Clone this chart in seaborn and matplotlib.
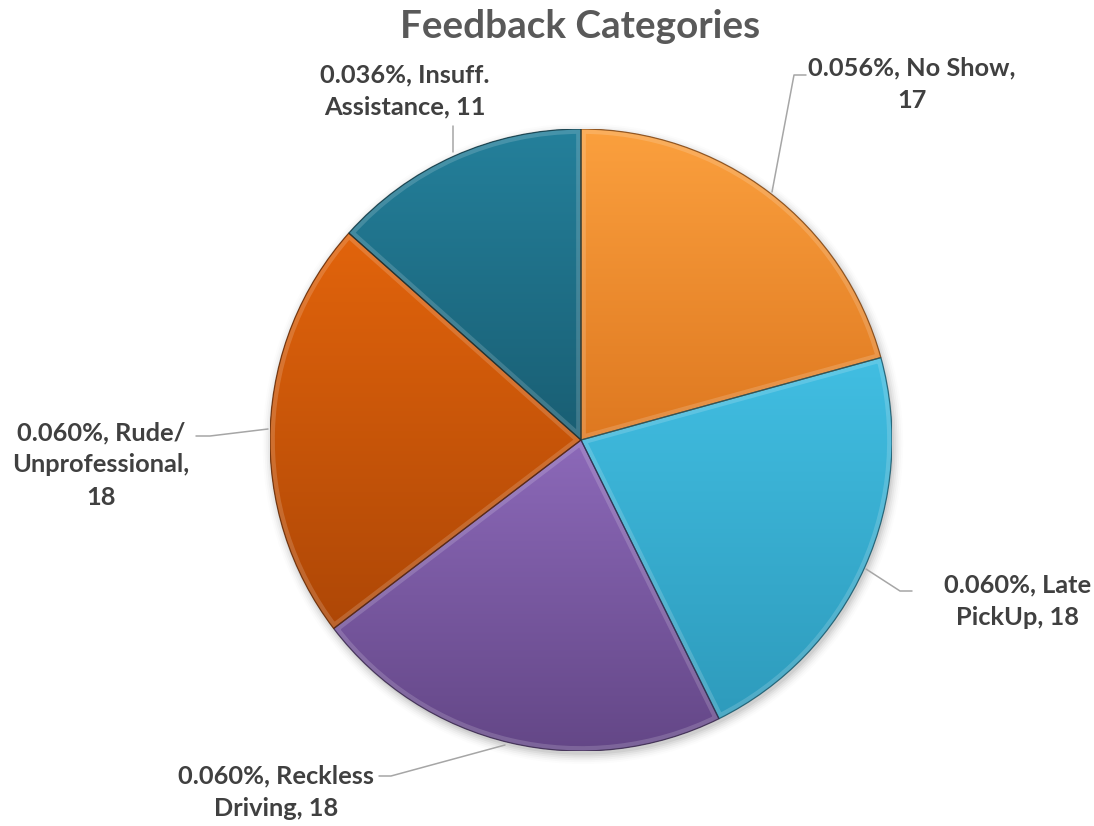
import numpy as np
import matplotlib
matplotlib.use("Agg")
import matplotlib.pyplot as plt
import matplotlib.colors as mcolors
from matplotlib.patches import Circle, PathPatch
import seaborn as sns

# Feedback data
categories = ["No Show", "Late\nPickUp", "Reckless\nDriving", "Rude/\nUnprofessional", "Insuff.\nAssistance"]
counts = [17, 18, 18, 18, 11]
pct_labels = ["0.056%", "0.060%", "0.060%", "0.060%", "0.036%"]

# slice colours: (lighter top, darker bottom)
top_colors = ["#FBA03E", "#41BEE2", "#8C69B9", "#E2640C", "#24809B"]
bottom_colors = ["#DE7820", "#2E9BBC", "#644787", "#AE4706", "#195E73"]

sns.set_theme(style="white")
plt.rcParams["font.family"] = ["Lato", "DejaVu Sans"]

W, H = 1094, 826
fig = plt.figure(figsize=(W / 100, H / 100), dpi=100)
fig.patch.set_facecolor("white")

cx, cy, R = 581, 440, 311
ax = fig.add_axes([(cx - R) / W, (H - cy - R) / H, 2 * R / W, 2 * R / H])

# soft drop shadow under the pie
for i, a in enumerate(np.linspace(0.05, 0.012, 6)):
    ax.add_patch(Circle((0.006, -0.012), 1.0 + 0.006 * i, facecolor="#000000",
                        edgecolor="none", alpha=a, zorder=0, clip_on=False))

wedges, _ = ax.pie(counts, startangle=90, counterclock=False, radius=1.0,
                   colors=bottom_colors,
                   wedgeprops=dict(edgecolor="none", linewidth=0, clip_on=False))

for w, ct, cb in zip(wedges, top_colors, bottom_colors):
    w.set_zorder(1)
    ext = w.get_path().get_extents()
    c1 = np.array(mcolors.to_rgb(ct))
    c2 = np.array(mcolors.to_rgb(cb))
    t = np.linspace(0, 1, 256)[:, None]
    grad = (c1[None, :] * (1 - t) + c2[None, :] * t)[:, None, :]
    im = ax.imshow(grad, extent=(ext.x0, ext.x1, ext.y0, ext.y1), origin="upper",
                   aspect="auto", zorder=2, interpolation="bilinear")
    im.set_clip_path(w)
    # bevel: light inner rim, dark outline
    rim = PathPatch(w.get_path(), facecolor="none", edgecolor="white", lw=7,
                    alpha=0.16, zorder=3, transform=ax.transData)
    ax.add_patch(rim)
    rim.set_clip_path(w)
    ax.add_patch(PathPatch(w.get_path(), facecolor="none",
                           edgecolor=mcolors.to_hex(c2 * 0.55), lw=0.9,
                           alpha=0.8, zorder=4, transform=ax.transData))

ax.set_xlim(-1, 1)
ax.set_ylim(-1, 1)
ax.set_aspect("auto")
ax.axis("off")


def px(x, y):
    return ((x - cx) / R, (cy - y) / R)


label_text = ["{}, No Show,\n17".format(pct_labels[0]),
              "{}, Late\nPickUp, {}".format(pct_labels[1], counts[1]),
              "{}, Reckless\nDriving, {}".format(pct_labels[2], counts[2]),
              "{}, Rude/\nUnprofessional,\n{}".format(pct_labels[3], counts[3]),
              "{}, Insuff.\nAssistance, {}".format(pct_labels[4], counts[4])]
label_pos = [(912, 84), (1018, 601), (276, 792), (101, 465), (405, 91)]
leaders = [
    [(772, 192), (794, 75), (806, 75)],
    [(866, 569), (900, 591), (912, 591)],
    [(505, 745), (391, 776), (379, 776)],
    [(268, 429), (210, 436), (196, 436)],
    [(453, 152), (453, 126)],
]

for txt, (lx, ly), pts in zip(label_text, label_pos, leaders):
    x, y = px(lx, ly)
    ax.text(x, y, txt, ha="center", va="center", fontsize=18.3,
            fontweight="bold", color="#404040", linespacing=1.5,
            clip_on=False, zorder=6)
    d = np.array([px(*p) for p in pts])
    ax.plot(d[:, 0], d[:, 1], color="#A6A6A6", lw=1.1, clip_on=False, zorder=5)

fig.text(580 / W, 1 - 26 / H, "Feedback Categories", ha="center", va="center",
         fontsize=27.8, fontweight="bold", color="#595959")

fig.savefig("out.png", dpi=100, facecolor="white")
